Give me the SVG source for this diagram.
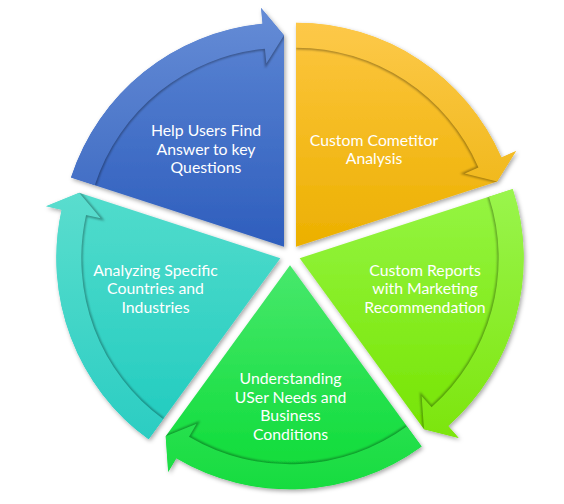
<svg xmlns="http://www.w3.org/2000/svg" width="564" height="504" viewBox="0 0 564 504">
<defs>
<linearGradient id="gBlue" gradientUnits="userSpaceOnUse" x1="0" y1="8" x2="0" y2="247"><stop offset="0" stop-color="#5d86d4"/><stop offset="1" stop-color="#2e5ebd"/></linearGradient>
<linearGradient id="gOrange" gradientUnits="userSpaceOnUse" x1="0" y1="22" x2="0" y2="247"><stop offset="0" stop-color="#fdc640"/><stop offset="1" stop-color="#ecb000"/></linearGradient>
<linearGradient id="gLime" gradientUnits="userSpaceOnUse" x1="0" y1="188" x2="0" y2="438"><stop offset="0" stop-color="#95f544"/><stop offset="1" stop-color="#76e400"/></linearGradient>
<linearGradient id="gGreen" gradientUnits="userSpaceOnUse" x1="0" y1="265" x2="0" y2="489"><stop offset="0" stop-color="#48e86c"/><stop offset="1" stop-color="#0adb35"/></linearGradient>
<linearGradient id="gTeal" gradientUnits="userSpaceOnUse" x1="0" y1="192" x2="0" y2="440"><stop offset="0" stop-color="#52dccc"/><stop offset="1" stop-color="#20cbbf"/></linearGradient>
<filter id="drop" x="-10%" y="-10%" width="120%" height="120%"><feDropShadow dx="1.5" dy="2" stdDeviation="2" flood-color="#000" flood-opacity="0.35"/></filter>
<filter id="soft" x="-10%" y="-10%" width="120%" height="120%"><feGaussianBlur stdDeviation="1.3"/></filter>
<clipPath id="cBlue"><path d="M284,246.75 L70.96,177.53 A224,224 0 0 1 262.53,23.78 L261.00,7.85 L284,35.25 Z"/></clipPath>
<clipPath id="cOrange"><path d="M296,246.75 L296,22.75 A224,224 0 0 1 501.42,157.43 L516.09,151.05 L497.15,181.39 Z"/></clipPath>
<clipPath id="cLime"><path d="M299.70,258.15 L512.74,188.93 A224,224 0 0 1 448.13,425.92 L458.73,437.90 L424.02,429.26 Z"/></clipPath>
<clipPath id="cGreen"><path d="M290,265.2 L421.66,446.42 A224,224 0 0 1 176.31,458.21 L168.19,471.99 L165.68,436.31 Z"/></clipPath>
<clipPath id="cTeal"><path d="M280.30,258.15 L148.64,439.37 A224,224 0 0 1 61.61,209.67 L45.99,206.20 L79.15,192.79 Z"/></clipPath>
</defs>
<style>
.wedge{filter:url(#drop)}
.lbl{font-family:Lato,"Liberation Sans",sans-serif;font-size:15.8px;fill:#ffffff;text-anchor:middle}
.sh{fill:none;stroke:#000;stroke-opacity:0.35;stroke-width:3;stroke-linejoin:miter;filter:url(#soft)}
.hl{fill:#ffffff;fill-opacity:0.05}
</style>

<g id="node-blue">
<path class="wedge" fill="url(#gBlue)" d="M284,246.75 L70.96,177.53 A224,224 0 0 1 262.53,23.78 L261.00,7.85 L284,35.25 Z"/>
<text class="lbl"><tspan x="206" y="136">Help Users Find</tspan><tspan x="206" y="154.5">Answer to key</tspan><tspan x="206" y="173">Questions</tspan></text>
</g>
<g id="node-orange">
<path class="wedge" fill="url(#gOrange)" d="M296,246.75 L296,22.75 A224,224 0 0 1 501.42,157.43 L516.09,151.05 L497.15,181.39 Z"/>
<text class="lbl"><tspan x="374" y="145.7">Custom Cometitor</tspan><tspan x="374" y="164.2">Analysis</tspan></text>
</g>
<g id="node-lime">
<path class="wedge" fill="url(#gLime)" d="M299.70,258.15 L512.74,188.93 A224,224 0 0 1 448.13,425.92 L458.73,437.90 L424.02,429.26 Z"/>
<text class="lbl"><tspan x="425" y="275.7">Custom Reports</tspan><tspan x="425" y="294.2">with Marketing</tspan><tspan x="425" y="312.7">Recommendation</tspan></text>
</g>
<g id="node-green">
<path class="wedge" fill="url(#gGreen)" d="M290,265.2 L421.66,446.42 A224,224 0 0 1 176.31,458.21 L168.19,471.99 L165.68,436.31 Z"/>
<text class="lbl"><tspan x="290.5" y="384">Understanding</tspan><tspan x="290.5" y="402.5">USer Needs and</tspan><tspan x="290.5" y="421">Business</tspan><tspan x="290.5" y="439.5">Conditions</tspan></text>
</g>
<g id="node-teal">
<path class="wedge" fill="url(#gTeal)" d="M280.30,258.15 L148.64,439.37 A224,224 0 0 1 61.61,209.67 L45.99,206.20 L79.15,192.79 Z"/>
<text class="lbl"><tspan x="155.5" y="275.7">Analyzing Specific</tspan><tspan x="155.5" y="294.2">Countries and</tspan><tspan x="155.5" y="312.7">Industries</tspan></text>
</g>

<g id="connectors">
<g clip-path="url(#cBlue)">
<path class="sh" d="M94.74,185.26 A199,199 0 0 1 264.93,48.67 L266.36,63.60 L284,35.25"/>
<path fill="url(#gBlue)" d="M70.96,177.53 A224,224 0 0 1 262.53,23.78 L261.00,7.85 L284,35.25 L266.36,63.60 L264.93,48.67 A199,199 0 0 0 94.74,185.26 Z"/>
<path class="hl" d="M70.96,177.53 A224,224 0 0 1 262.53,23.78 L261.00,7.85 L284,35.25 L266.36,63.60 L264.93,48.67 A199,199 0 0 0 94.74,185.26 Z"/>
</g>
<g clip-path="url(#cOrange)">
<path class="sh" d="M296,47.75 A199,199 0 0 1 478.49,167.40 L464.74,173.38 L497.15,181.39"/>
<path fill="url(#gOrange)" d="M296,22.75 A224,224 0 0 1 501.42,157.43 L516.09,151.05 L497.15,181.39 L464.74,173.38 L478.49,167.40 A199,199 0 0 0 296,47.75 Z"/>
<path class="hl" d="M296,22.75 A224,224 0 0 1 501.42,157.43 L516.09,151.05 L497.15,181.39 L464.74,173.38 L478.49,167.40 A199,199 0 0 0 296,47.75 Z"/>
</g>
<g clip-path="url(#cLime)">
<path class="sh" d="M488.96,196.66 A199,199 0 0 1 431.56,407.19 L421.62,395.96 L424.02,429.26"/>
<path fill="url(#gLime)" d="M512.74,188.93 A224,224 0 0 1 448.13,425.92 L458.73,437.90 L424.02,429.26 L421.62,395.96 L431.56,407.19 A199,199 0 0 0 488.96,196.66 Z"/>
<path class="hl" d="M512.74,188.93 A224,224 0 0 1 448.13,425.92 L458.73,437.90 L424.02,429.26 L421.62,395.96 L431.56,407.19 A199,199 0 0 0 488.96,196.66 Z"/>
</g>
<g clip-path="url(#cGreen)">
<path class="sh" d="M406.97,426.20 A199,199 0 0 1 189.00,436.66 L196.61,423.74 L165.68,436.31"/>
<path fill="url(#gGreen)" d="M421.66,446.42 A224,224 0 0 1 176.31,458.21 L168.19,471.99 L165.68,436.31 L196.61,423.74 L189.00,436.66 A199,199 0 0 0 406.97,426.20 Z"/>
<path class="hl" d="M421.66,446.42 A224,224 0 0 1 176.31,458.21 L168.19,471.99 L165.68,436.31 L196.61,423.74 L189.00,436.66 A199,199 0 0 0 406.97,426.20 Z"/>
</g>
<g clip-path="url(#cTeal)">
<path class="sh" d="M163.33,419.15 A199,199 0 0 1 86.02,215.08 L100.66,218.32 L79.15,192.79"/>
<path fill="url(#gTeal)" d="M148.64,439.37 A224,224 0 0 1 61.61,209.67 L45.99,206.20 L79.15,192.79 L100.66,218.32 L86.02,215.08 A199,199 0 0 0 163.33,419.15 Z"/>
<path class="hl" d="M148.64,439.37 A224,224 0 0 1 61.61,209.67 L45.99,206.20 L79.15,192.79 L100.66,218.32 L86.02,215.08 A199,199 0 0 0 163.33,419.15 Z"/>
</g>
</g>
</svg>
